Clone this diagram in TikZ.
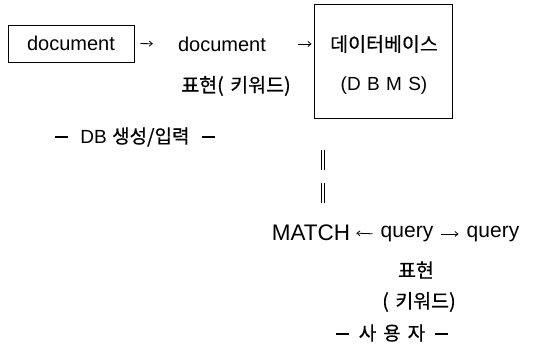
\documentclass[tikz,border=0pt]{standalone}
\usepackage{fontspec}
\setmainfont{Liberation Sans}
\newfontfamily\kr[FakeBold=0.6]{Noto Sans CJK KR}
\usetikzlibrary{arrows.meta}
\newcommand{\lngdash}{\rule[5.5pt]{13pt}{1.2pt}}
\begin{document}
\begin{tikzpicture}[x=1pt,y=-1pt,
  txt/.style={inner sep=0pt,font=\fontsize{20}{22}\selectfont},
  ktxt/.style={inner sep=0pt,font=\fontsize{19.5}{21}\selectfont\kr},
  boxed/.style={draw,line width=0.9pt,inner sep=0pt},
  arr/.style={-{Straight Barb[length=3pt,width=5pt]},line width=0.8pt},
  dbl/.style={double,double distance=2pt,line width=0.7pt}]
\useasboundingbox (0,0) rectangle (547,348);
% row 1
\node[boxed,txt,minimum width=126pt,minimum height=37pt] (box1) at (71,43.5) {document};
\node[txt] (doc2) at (222,44) {document};
\node[boxed,minimum width=138pt,minimum height=114pt] (dbms) at (383,61) {};
\node[ktxt] (dbk) at (384,44) {데이터베이스};
\node[txt,font=\fontsize{19}{21}\selectfont] (dbms2) at (384,86) {(D\,\,B\,\,M\,\,S)};
\node[ktxt] (rep1) at (236,86) {표현(\,\,키워드)};
\coordinate (a2e) at (doc2.east -| dbms.west);
\draw[arr,shorten <=6pt,shorten >=25pt] (box1.east) -- (doc2.west);
\draw[arr,shorten <=32pt,shorten >=2pt] (doc2.east) -- (a2e);
% label
\node[txt,font=\fontsize{19}{21}\selectfont] (dbin) at (135,137) {\lngdash\hspace{12pt}DB {\kr 생성/입력}\hspace{12pt}\lngdash};
% double bars
\coordinate (v1a) at (323,150);
\coordinate (v1b) at (323,170);
\coordinate (v2a) at (323,183);
\coordinate (v2b) at (323,203);
\draw[dbl] (v1a) -- (v1b);
\draw[dbl] (v2a) -- (v2b);
% row MATCH
\node[txt,font=\fontsize{22.5}{24}\selectfont] (match) at (311,233) {MATCH};
\node[txt,font=\fontsize{21}{23}\selectfont] (q1) at (407,234) {query};
\node[txt,font=\fontsize{21}{23}\selectfont] (q2) at (493,234) {query};
\draw[arr,shorten <=8pt,shorten >=6pt] (q1.west) -- (match.east);
\draw[arr,shorten <=8pt,shorten >=8pt] (q1.east) -- (q2.west);
\node[ktxt] (rep2) at (416,270) {표현};
\node[ktxt] (kw) at (419,302) {(\,\,키워드)};
\node[txt,font=\fontsize{19}{21}\selectfont] (user) at (392,333) {\lngdash\hspace{10pt}{\kr 사\hspace{7pt}용\hspace{7pt}자}\hspace{10pt}\lngdash};
\end{tikzpicture}
\end{document}
